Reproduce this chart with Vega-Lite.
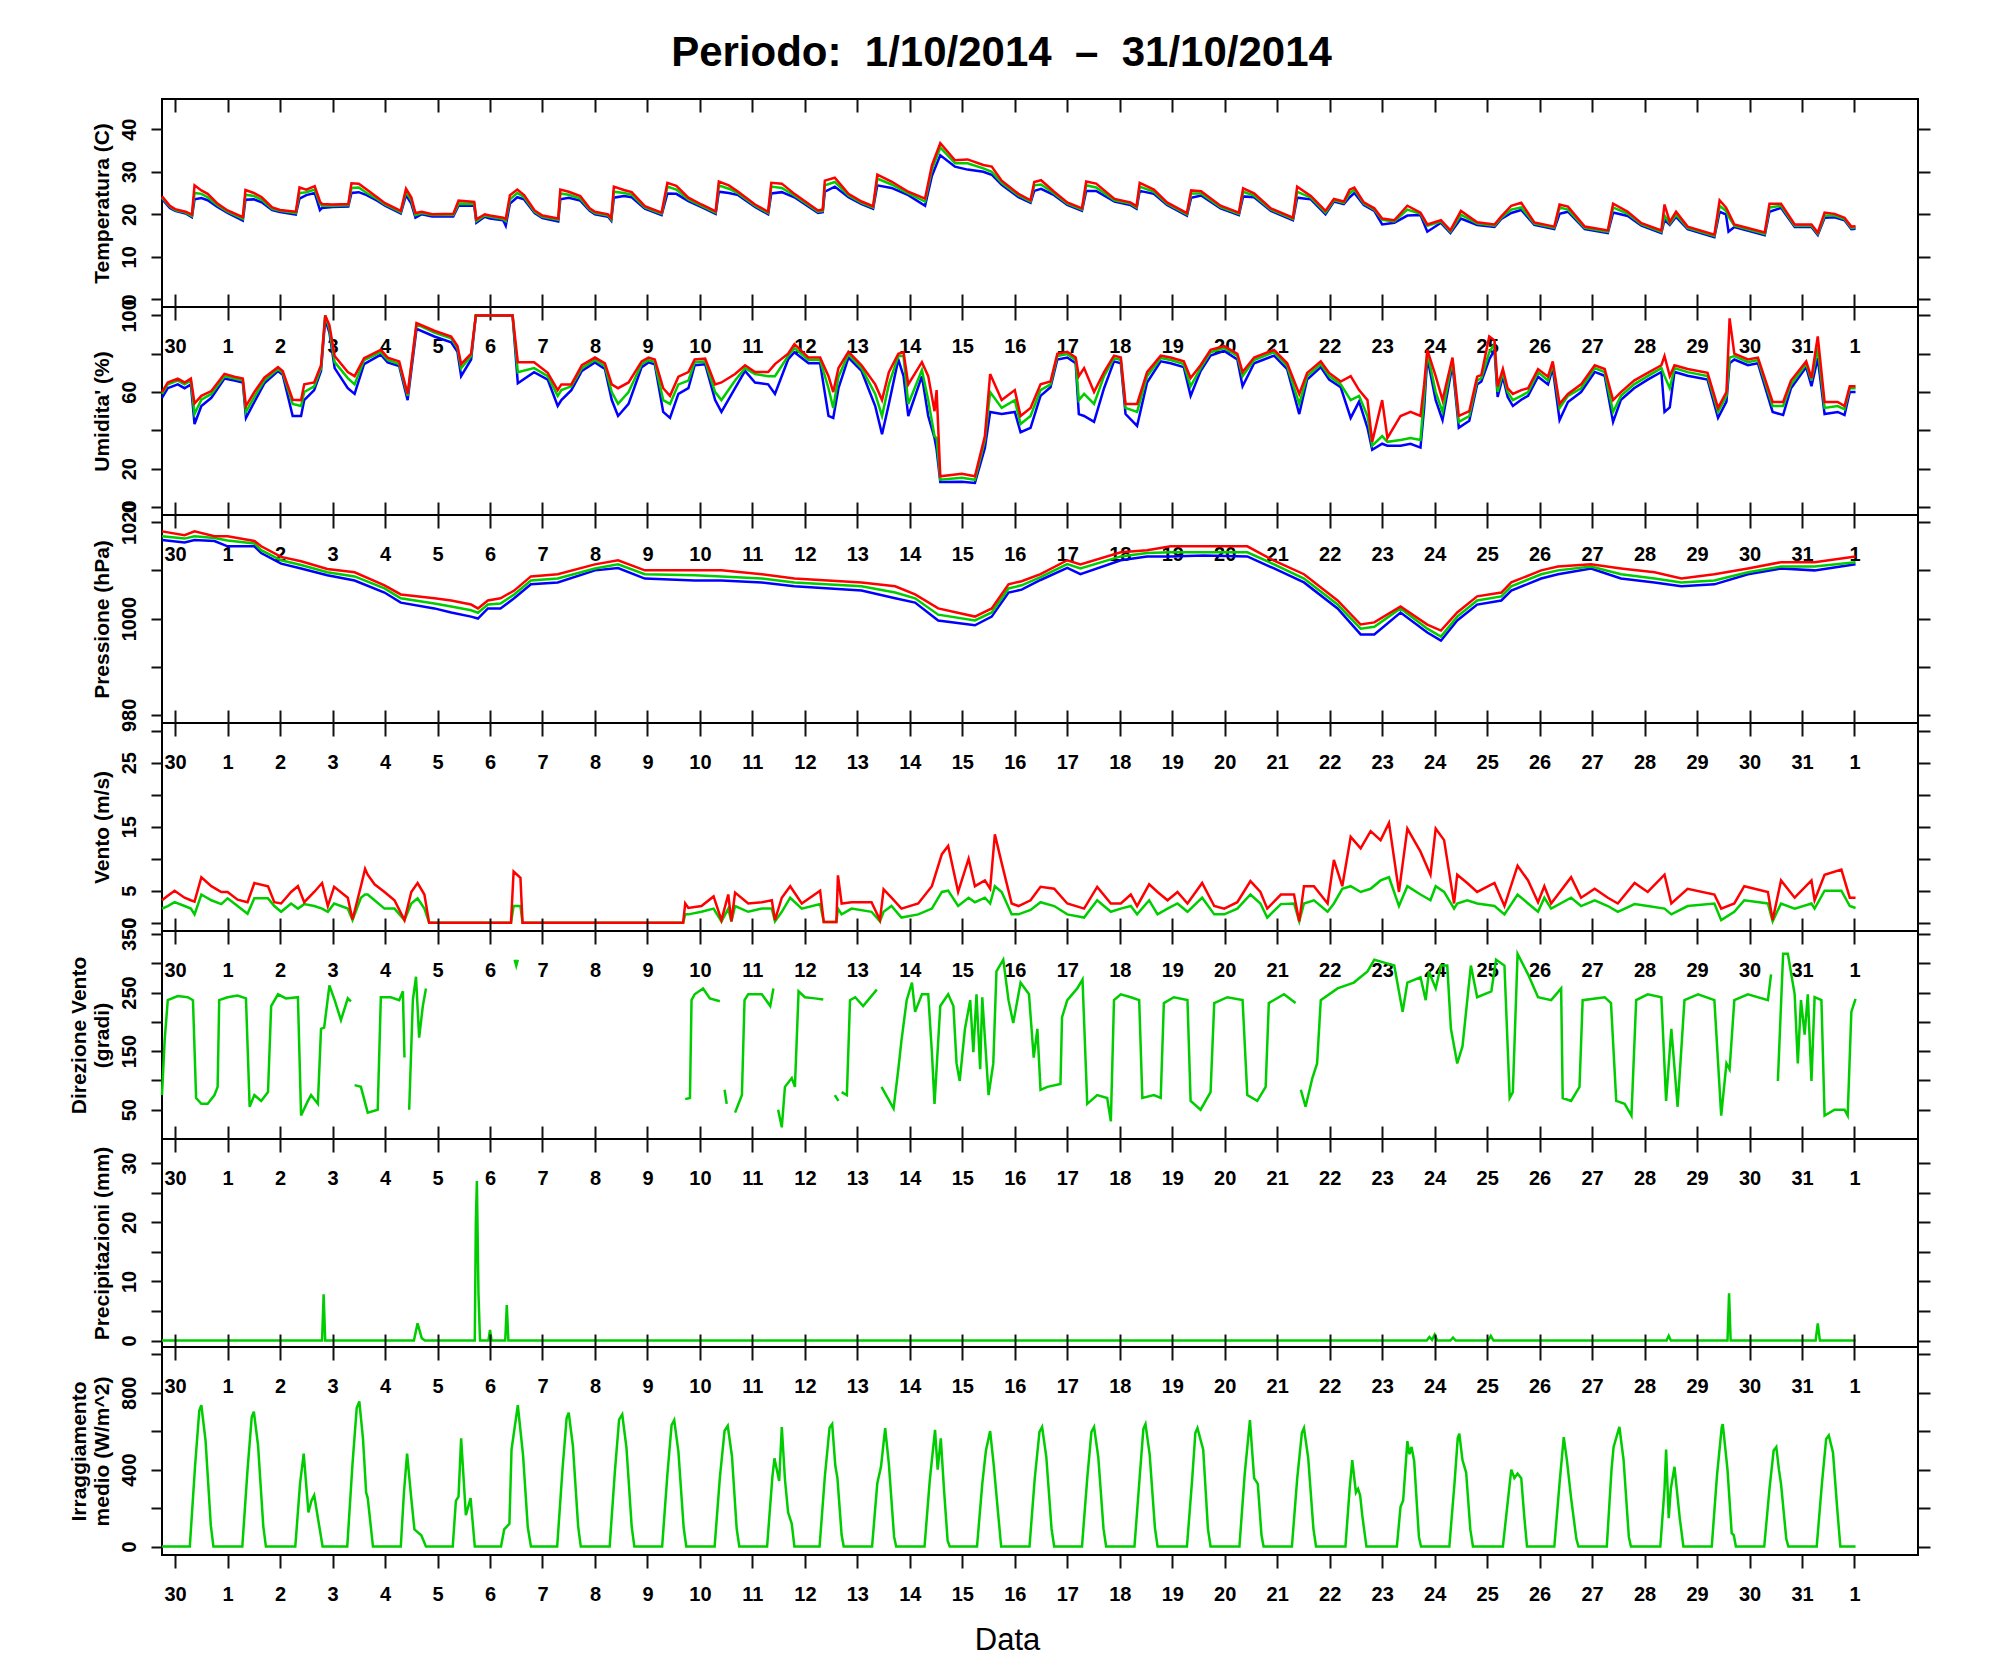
{
"$schema":"https://vega.github.io/schema/vega-lite/v6.json",
"background":"white",
"padding":{"left":66,"top":32,"right":10,"bottom":5},
"autosize":{"type":"pad"},
"title":{"text":"Periodo:\u00a0\u00a01/10/2014\u00a0\u00a0–\u00a0\u00a031/10/2014","font":"Liberation Sans","fontSize":42,"fontWeight":"bold","color":"black","anchor":"middle","baseline":"alphabetic","offset":-11,"dx":2},
"spacing":0,
"bounds":"flush",
"datasets":{
"tmp":[
{"t":-0.25,"a":23.6,"b":23.9,"c":24.2},{"t":-0.1,"a":21.5,"b":21.8,"c":22},{"t":0,"a":20.8,"b":21,"c":21.2},{"t":0.2,"a":20.2,"b":20.4,"c":20.6},{"t":0.32,"a":19.3,"b":19.6,"c":19.9},{"t":0.37,"a":23.5,"b":25,"c":26.8},{"t":0.5,"a":23.8,"b":24.8,"c":25.6},{"t":0.62,"a":23.3,"b":24,"c":24.8},{"t":0.8,"a":21.8,"b":22.2,"c":22.6},
{"t":1,"a":20.3,"b":20.6,"c":20.9},{"t":1.29,"a":18.5,"b":18.9,"c":19.3},{"t":1.34,"a":23.4,"b":24.6,"c":25.7},{"t":1.5,"a":23.5,"b":24.3,"c":25},{"t":1.65,"a":22.8,"b":23.4,"c":24},{"t":1.85,"a":21,"b":21.3,"c":21.6},
{"t":2,"a":20.5,"b":20.8,"c":21},{"t":2.3,"a":19.9,"b":20.3,"c":20.6},{"t":2.37,"a":23.7,"b":25,"c":26.3},{"t":2.5,"a":24.5,"b":25.2,"c":25.8},{"t":2.66,"a":25,"b":25.8,"c":26.6},{"t":2.76,"a":21,"b":22.5,"c":23},{"t":2.8,"a":21.5,"b":22,"c":22.4},
{"t":3,"a":21.7,"b":22,"c":22.3},{"t":3.3,"a":21.8,"b":22.1,"c":22.4},{"t":3.36,"a":25,"b":26.2,"c":27.3},{"t":3.5,"a":25.2,"b":26.3,"c":27.2},{"t":3.65,"a":24.5,"b":25,"c":25.8},{"t":3.85,"a":23.2,"b":23.6,"c":24},
{"t":4,"a":22,"b":22.3,"c":22.6},{"t":4.3,"a":20.2,"b":20.5,"c":20.8},{"t":4.4,"a":24.5,"b":25.3,"c":26},{"t":4.5,"a":22.5,"b":23.3,"c":24},{"t":4.58,"a":19.2,"b":19.8,"c":20.3},{"t":4.7,"a":20,"b":20.3,"c":20.6},{"t":4.9,"a":19.5,"b":19.8,"c":20},
{"t":5.3,"a":19.5,"b":19.8,"c":20.1},{"t":5.4,"a":22,"b":22.5,"c":23.2},{"t":5.7,"a":22,"b":22.4,"c":22.9},{"t":5.74,"a":18,"b":18.4,"c":18.8},{"t":5.9,"a":19.4,"b":19.7,"c":20},
{"t":6,"a":19,"b":19.4,"c":19.7},{"t":6.25,"a":18.6,"b":18.9,"c":19.2},{"t":6.3,"a":17.3,"b":18.4,"c":18.9},{"t":6.38,"a":22.5,"b":23.5,"c":24.5},{"t":6.52,"a":24,"b":25,"c":25.8},{"t":6.65,"a":23.5,"b":24,"c":24.5},{"t":6.85,"a":20.3,"b":20.6,"c":20.9},
{"t":7,"a":19.1,"b":19.4,"c":19.7},{"t":7.3,"a":18.3,"b":18.7,"c":19},{"t":7.34,"a":23.5,"b":24.9,"c":25.8},{"t":7.5,"a":23.9,"b":24.6,"c":25.3},{"t":7.72,"a":23.2,"b":23.7,"c":24.3},{"t":7.9,"a":20.8,"b":21.1,"c":21.4},
{"t":8,"a":20,"b":20.3,"c":20.6},{"t":8.25,"a":19.4,"b":19.7,"c":20},{"t":8.31,"a":18.5,"b":18.8,"c":19.1},{"t":8.36,"a":23.9,"b":25.3,"c":26.5},{"t":8.55,"a":24.3,"b":25,"c":25.7},{"t":8.7,"a":24,"b":24.6,"c":25.2},{"t":8.95,"a":21.3,"b":21.6,"c":21.9},
{"t":9.27,"a":19.8,"b":20.1,"c":20.4},{"t":9.38,"a":24.9,"b":26.5,"c":27.4},{"t":9.55,"a":24.8,"b":25.8,"c":26.7},{"t":9.78,"a":23.1,"b":23.5,"c":23.9},
{"t":10.03,"a":21.7,"b":22,"c":22.3},{"t":10.3,"a":20.1,"b":20.4,"c":20.7},{"t":10.36,"a":25.3,"b":26.8,"c":27.7},{"t":10.55,"a":25,"b":26,"c":26.8},{"t":10.73,"a":24.5,"b":24.9,"c":25.3},
{"t":11.05,"a":21.7,"b":22,"c":22.3},{"t":11.3,"a":20,"b":20.3,"c":20.6},{"t":11.36,"a":24.9,"b":26.5,"c":27.4},{"t":11.56,"a":25.2,"b":26.2,"c":27.2},{"t":11.8,"a":24,"b":24.4,"c":24.8},
{"t":12.25,"a":20.3,"b":20.6,"c":20.9},{"t":12.34,"a":20.5,"b":20.8,"c":21.1},{"t":12.38,"a":25.3,"b":26.8,"c":27.9},{"t":12.57,"a":26.5,"b":27.6,"c":28.6},{"t":12.83,"a":24,"b":24.4,"c":24.8},
{"t":13.08,"a":22.4,"b":22.7,"c":23},{"t":13.3,"a":21.3,"b":21.6,"c":21.9},{"t":13.38,"a":26.8,"b":28.4,"c":29.3},{"t":13.65,"a":26.2,"b":27,"c":27.7},{"t":13.97,"a":24.5,"b":24.9,"c":25.3},
{"t":14.29,"a":22,"b":23,"c":23.7},{"t":14.42,"a":29,"b":30.5,"c":31.5},{"t":14.58,"a":33.9,"b":35.7,"c":36.7},{"t":14.86,"a":31.2,"b":32,"c":32.7},
{"t":15.1,"a":30.5,"b":32,"c":32.9},{"t":15.4,"a":30,"b":30.8,"c":31.6},{"t":15.56,"a":29.3,"b":30,"c":31.2},{"t":15.75,"a":26.9,"b":27.4,"c":27.9},
{"t":16.07,"a":24,"b":24.4,"c":24.8},{"t":16.3,"a":22.7,"b":23,"c":23.3},{"t":16.37,"a":25.5,"b":26.8,"c":27.6},{"t":16.5,"a":26,"b":27,"c":28},{"t":16.75,"a":24.5,"b":24.9,"c":25.3},
{"t":17,"a":22.2,"b":22.5,"c":22.8},{"t":17.28,"a":20.8,"b":21.1,"c":21.4},{"t":17.36,"a":25.5,"b":26.8,"c":27.7},{"t":17.55,"a":25.5,"b":26.3,"c":27.2},{"t":17.9,"a":23,"b":23.3,"c":23.6},
{"t":18.2,"a":22.2,"b":22.5,"c":22.8},{"t":18.32,"a":21.3,"b":21.6,"c":21.9},{"t":18.38,"a":25.5,"b":26.5,"c":27.4},{"t":18.65,"a":24.8,"b":25.3,"c":25.8},{"t":18.9,"a":22.2,"b":22.5,"c":22.8},
{"t":19.28,"a":19.7,"b":20,"c":20.3},{"t":19.36,"a":23.9,"b":24.9,"c":25.6},{"t":19.55,"a":24.4,"b":24.9,"c":25.4},{"t":19.92,"a":21.4,"b":21.7,"c":22},
{"t":20.27,"a":19.8,"b":20.1,"c":20.4},{"t":20.35,"a":24.2,"b":25.3,"c":26.1},{"t":20.56,"a":24,"b":24.4,"c":24.9},{"t":20.88,"a":20.8,"b":21.1,"c":21.4},
{"t":21.3,"a":18.6,"b":18.9,"c":19.2},{"t":21.38,"a":23.9,"b":25.3,"c":26.5},{"t":21.64,"a":23.5,"b":23.9,"c":24.3},{"t":21.92,"a":20,"b":20.4,"c":20.8},
{"t":22.08,"a":23,"b":23.3,"c":23.6},{"t":22.27,"a":22.4,"b":22.7,"c":23},{"t":22.38,"a":24,"b":24.9,"c":25.8},{"t":22.47,"a":25,"b":25.8,"c":26.3},{"t":22.65,"a":22.2,"b":22.5,"c":22.8},{"t":22.85,"a":20.8,"b":21.1,"c":21.4},
{"t":23,"a":17.6,"b":18.7,"c":19},{"t":23.23,"a":18,"b":18.3,"c":18.6},{"t":23.48,"a":19.7,"b":21.1,"c":22},{"t":23.73,"a":19.8,"b":20.1,"c":20.4},{"t":23.86,"a":15.9,"b":17.3,"c":17.6},
{"t":24.12,"a":18,"b":18.3,"c":18.6},{"t":24.3,"a":15.6,"b":15.9,"c":16.2},{"t":24.5,"a":19,"b":19.9,"c":20.8},{"t":24.81,"a":17.5,"b":17.8,"c":18.1},
{"t":25.14,"a":17,"b":17.3,"c":17.6},{"t":25.27,"a":18.9,"b":19.2,"c":19.5},{"t":25.46,"a":20.3,"b":21.1,"c":22},{"t":25.65,"a":21,"b":21.6,"c":22.7},{"t":25.9,"a":17.5,"b":17.8,"c":18.1},
{"t":26.28,"a":16.5,"b":16.8,"c":17.1},{"t":26.38,"a":20.1,"b":21.6,"c":22.3},{"t":26.54,"a":20.6,"b":21.1,"c":21.8},{"t":26.86,"a":16.5,"b":16.8,"c":17.1},
{"t":27.3,"a":15.6,"b":15.9,"c":16.2},{"t":27.4,"a":20.4,"b":21.6,"c":22.5},{"t":27.68,"a":19.6,"b":20.1,"c":20.6},{"t":27.94,"a":17.3,"b":17.6,"c":17.9},
{"t":28.32,"a":15.6,"b":15.9,"c":16.2},{"t":28.38,"a":18.7,"b":19.7,"c":22.3},{"t":28.48,"a":17.5,"b":17.8,"c":18.2},{"t":28.6,"a":19.4,"b":19.9,"c":20.6},{"t":28.82,"a":16.5,"b":16.8,"c":17.1},
{"t":29.33,"a":14.6,"b":14.9,"c":15.2},{"t":29.43,"a":20.6,"b":22,"c":23.3},{"t":29.55,"a":20,"b":20.8,"c":21.6},{"t":29.6,"a":15.9,"b":19.5,"c":20.4},{"t":29.71,"a":17,"b":17.3,"c":17.6},
{"t":30.29,"a":15.1,"b":15.4,"c":15.7},{"t":30.38,"a":20.6,"b":21.6,"c":22.5},{"t":30.6,"a":21.5,"b":22,"c":22.5},{"t":30.86,"a":17,"b":17.3,"c":17.6},
{"t":31.18,"a":17,"b":17.3,"c":17.6},{"t":31.3,"a":15.1,"b":15.4,"c":15.7},{"t":31.43,"a":19.2,"b":19.7,"c":20.4},{"t":31.62,"a":19.3,"b":19.7,"c":20.1},{"t":31.81,"a":18.6,"b":18.9,"c":19.2},{"t":31.94,"a":16.5,"b":16.8,"c":17.1},{"t":32.02,"a":16.6,"b":16.9,"c":17.2}
],
"hum":[
{"t":-0.25,"a":57,"b":59,"c":60},{"t":-0.14,"a":62,"b":64,"c":65},{"t":0.05,"a":64,"b":66,"c":67},{"t":0.18,"a":62,"b":64,"c":65},{"t":0.3,"a":64,"b":66,"c":67},{"t":0.37,"a":43.3,"b":48.5,"c":54},{"t":0.5,"a":52.7,"b":56,"c":58},{"t":0.69,"a":57,"b":59,"c":60.5},{"t":0.94,"a":67,"b":68.3,"c":69.5},
{"t":1.13,"a":66,"b":67,"c":68},{"t":1.29,"a":65,"b":66,"c":67},{"t":1.35,"a":46.5,"b":49.6,"c":52.7},{"t":1.51,"a":54.8,"b":57.5,"c":60},{"t":1.7,"a":64.5,"b":66,"c":67.5},{"t":1.96,"a":71,"b":72,"c":73},
{"t":2.05,"a":69,"b":70,"c":71},{"t":2.24,"a":47.5,"b":53.8,"c":56},{"t":2.4,"a":47.5,"b":52.7,"c":55.8},{"t":2.46,"a":55.8,"b":60,"c":64},{"t":2.65,"a":61,"b":63,"c":65},{"t":2.78,"a":71,"b":72.5,"c":74},{"t":2.86,"a":98,"b":100,"c":100},{"t":2.94,"a":91,"b":93,"c":95},
{"t":3.04,"a":72.5,"b":75.6,"c":78.8},{"t":3.29,"a":62,"b":67.3,"c":70.4},{"t":3.42,"a":59,"b":64,"c":68.3},{"t":3.6,"a":74.6,"b":76.7,"c":77.7},{"t":3.92,"a":79.5,"b":80.8,"c":82},
{"t":4.05,"a":75.5,"b":76.7,"c":78},{"t":4.27,"a":73.5,"b":74.6,"c":76},{"t":4.43,"a":55.8,"b":58,"c":59},{"t":4.6,"a":93,"b":95.4,"c":96},{"t":4.94,"a":89,"b":91,"c":92},
{"t":5.26,"a":86,"b":88,"c":89},{"t":5.38,"a":81,"b":83,"c":84},{"t":5.45,"a":68.3,"b":72.5,"c":74.6},{"t":5.64,"a":77,"b":78.8,"c":80},{"t":5.73,"a":100,"b":100,"c":100},{"t":6.43,"a":100,"b":100,"c":100},{"t":6.53,"a":64.6,"b":70.4,"c":75.6},{"t":6.84,"a":70.4,"b":72.5,"c":75.6},
{"t":7.1,"a":66.5,"b":68.3,"c":70},{"t":7.29,"a":52.7,"b":58,"c":61},{"t":7.36,"a":55.8,"b":61,"c":64},{"t":7.55,"a":61,"b":63,"c":64},{"t":7.75,"a":71,"b":72.5,"c":74},
{"t":8,"a":75.5,"b":76.7,"c":78},{"t":8.19,"a":72,"b":73.5,"c":75},{"t":8.32,"a":55.8,"b":60,"c":64},{"t":8.44,"a":47.5,"b":53.8,"c":62},{"t":8.64,"a":53.8,"b":60,"c":65},{"t":8.89,"a":73,"b":74.6,"c":76},
{"t":9.02,"a":75.5,"b":76.7,"c":78},{"t":9.14,"a":74.5,"b":75.6,"c":77},{"t":9.3,"a":49.6,"b":55.8,"c":62},{"t":9.43,"a":46.5,"b":53.8,"c":58},{"t":9.59,"a":59,"b":64,"c":68},{"t":9.78,"a":62,"b":66,"c":70.4},{"t":9.9,"a":74,"b":75.6,"c":77},
{"t":10.1,"a":74.5,"b":76,"c":77.5},{"t":10.29,"a":55.8,"b":60,"c":64},{"t":10.41,"a":49.6,"b":55.8,"c":65},{"t":10.67,"a":62,"b":66,"c":69.4},{"t":10.86,"a":71,"b":72.5,"c":74},
{"t":11.05,"a":65,"b":69.4,"c":70.4},{"t":11.3,"a":64,"b":68.3,"c":70.4},{"t":11.43,"a":59,"b":68.3,"c":74.6},{"t":11.68,"a":77,"b":78.8,"c":80},{"t":11.8,"a":80.8,"b":83,"c":85},
{"t":12.07,"a":75,"b":76.7,"c":78},{"t":12.29,"a":75,"b":76.7,"c":78},{"t":12.45,"a":47.5,"b":62,"c":68.3},{"t":12.54,"a":46.5,"b":51.7,"c":60},{"t":12.64,"a":62,"b":68,"c":72.5},{"t":12.83,"a":78,"b":79.8,"c":81},
{"t":13.08,"a":71,"b":72.5,"c":74},{"t":13.34,"a":52.7,"b":59,"c":64},{"t":13.47,"a":38,"b":47.5,"c":55.8},{"t":13.6,"a":53.8,"b":64,"c":70.4},{"t":13.78,"a":77,"b":78.8,"c":80},{"t":13.88,"a":68.3,"b":78.8,"c":80.8},{"t":13.97,"a":47.5,"b":53.8,"c":64},
{"t":14.23,"a":68.3,"b":71.5,"c":75.6},{"t":14.35,"a":47.5,"b":55.8,"c":68.3},{"t":14.47,"a":36,"b":37,"c":50},{"t":14.51,"a":30,"b":36,"c":61},{"t":14.58,"a":13,"b":14.2,"c":16},{"t":14.99,"a":13.1,"b":15.2,"c":17.3},
{"t":15.24,"a":12.5,"b":14.2,"c":16},{"t":15.43,"a":30.8,"b":35,"c":37},{"t":15.53,"a":49.6,"b":60,"c":69.4},{"t":15.75,"a":48.5,"b":51.7,"c":55.8},
{"t":16,"a":49.6,"b":55.8,"c":61},{"t":16.11,"a":39,"b":43.3,"c":47.5},{"t":16.3,"a":41.3,"b":47.5,"c":51.7},{"t":16.49,"a":58,"b":61,"c":64},{"t":16.68,"a":62.5,"b":64,"c":65.5},{"t":16.81,"a":77,"b":78.8,"c":80},
{"t":17,"a":78,"b":79.8,"c":81},{"t":17.16,"a":75,"b":76.7,"c":78},{"t":17.22,"a":48.5,"b":55.8,"c":68.3},{"t":17.32,"a":47.5,"b":59,"c":72.5},{"t":17.51,"a":44.4,"b":53.8,"c":60},{"t":17.7,"a":62,"b":68.3,"c":70.4},{"t":17.89,"a":76,"b":77.7,"c":79},
{"t":18.02,"a":75,"b":76.7,"c":78},{"t":18.11,"a":48.5,"b":51.7,"c":53.8},{"t":18.33,"a":42.3,"b":49.6,"c":53.8},{"t":18.52,"a":65,"b":68.3,"c":70.4},{"t":18.78,"a":76,"b":77.7,"c":79},{"t":18.97,"a":75,"b":76.7,"c":78},
{"t":19.22,"a":73,"b":74.6,"c":76},{"t":19.35,"a":58,"b":63,"c":67.3},{"t":19.54,"a":71,"b":72.5,"c":74},{"t":19.73,"a":79,"b":80.8,"c":82},{"t":19.99,"a":81.5,"b":83,"c":84},
{"t":20.24,"a":77,"b":78.8,"c":80},{"t":20.34,"a":63,"b":68.3,"c":70.4},{"t":20.56,"a":75,"b":76.7,"c":78},{"t":20.94,"a":79,"b":80.8,"c":82},
{"t":21.19,"a":72,"b":73.5,"c":75},{"t":21.42,"a":48.5,"b":53.8,"c":59},{"t":21.57,"a":66.5,"b":68.3,"c":70},{"t":21.83,"a":73,"b":74.6,"c":76},{"t":21.99,"a":66.5,"b":68.3,"c":70},
{"t":22.21,"a":62.5,"b":64,"c":65.5},{"t":22.4,"a":46.5,"b":55.8,"c":68.3},{"t":22.56,"a":55,"b":58,"c":61},{"t":22.72,"a":41.3,"b":47.5,"c":55.8},{"t":22.81,"a":29.8,"b":32,"c":34},
{"t":23,"a":33,"b":37,"c":55.8},{"t":23.1,"a":32,"b":34,"c":36},{"t":23.35,"a":32,"b":35,"c":47.5},{"t":23.54,"a":33,"b":36,"c":49.6},{"t":23.73,"a":31,"b":35,"c":47.5},{"t":23.8,"a":51.7,"b":58,"c":64},{"t":23.86,"a":78,"b":80.8,"c":82},
{"t":24.02,"a":55.8,"b":60,"c":68.3},{"t":24.15,"a":45.4,"b":49.6,"c":55.8},{"t":24.34,"a":74.5,"b":76.7,"c":78},{"t":24.46,"a":41.3,"b":44.4,"c":47.5},{"t":24.66,"a":45,"b":47.5,"c":50},{"t":24.81,"a":64,"b":66,"c":68},{"t":24.89,"a":65.5,"b":67.3,"c":69},
{"t":25.04,"a":77,"b":80.8,"c":89},{"t":25.14,"a":82,"b":85,"c":87},{"t":25.2,"a":57.5,"b":60,"c":63},{"t":25.3,"a":68,"b":70.4,"c":72},{"t":25.39,"a":57.5,"b":60,"c":62},{"t":25.49,"a":52.7,"b":55.8,"c":59},{"t":25.65,"a":56,"b":58,"c":61},{"t":25.78,"a":58,"b":60,"c":62},{"t":25.97,"a":68,"b":70.4,"c":72},
{"t":26.16,"a":64,"b":66,"c":68},{"t":26.25,"a":72.5,"b":74.6,"c":76},{"t":26.38,"a":45.4,"b":51.7,"c":53.8},{"t":26.54,"a":54.8,"b":58,"c":59},{"t":26.79,"a":60,"b":62,"c":64},
{"t":27.05,"a":70.5,"b":72.5,"c":74},{"t":27.24,"a":68.5,"b":70.4,"c":72},{"t":27.4,"a":44.4,"b":49.6,"c":55.8},{"t":27.55,"a":56,"b":58,"c":60},{"t":27.8,"a":62,"b":64,"c":66},
{"t":28.06,"a":66.5,"b":68.3,"c":70},{"t":28.32,"a":70.5,"b":72.5,"c":74},{"t":28.38,"a":49.6,"b":68.3,"c":78.8},{"t":28.48,"a":52,"b":62,"c":68.3},{"t":28.57,"a":70.5,"b":72.5,"c":74},{"t":28.82,"a":68.5,"b":70.4,"c":72},
{"t":29.2,"a":66.5,"b":68.3,"c":70},{"t":29.4,"a":46.5,"b":49.6,"c":51.7},{"t":29.56,"a":55,"b":58,"c":60},{"t":29.62,"a":75,"b":78,"c":98.5},{"t":29.71,"a":77,"b":78.8,"c":80},{"t":29.97,"a":74,"b":75.6,"c":77},
{"t":30.16,"a":75,"b":76.7,"c":78},{"t":30.44,"a":49.6,"b":52.7,"c":54.8},{"t":30.64,"a":48,"b":52.7,"c":54.8},{"t":30.79,"a":62,"b":64,"c":66},
{"t":31.08,"a":73,"b":74.6,"c":76},{"t":31.18,"a":63,"b":66,"c":67.3},{"t":31.3,"a":77.7,"b":83,"c":89},{"t":31.43,"a":48.5,"b":51.7,"c":54.8},{"t":31.68,"a":49.6,"b":52.7,"c":54.8},{"t":31.81,"a":48,"b":51,"c":52.7},{"t":31.91,"a":60,"b":62,"c":63},{"t":32.02,"a":60,"b":62,"c":63}
],
"prs":[
{"t":-0.25,"a":1016.3,"b":1017.1,"c":1018.1},{"t":0.18,"a":1015.8,"b":1016.6,"c":1017.3},{"t":0.37,"a":1016.3,"b":1017.1,"c":1018.1},{"t":0.75,"a":1016.1,"b":1016.7,"c":1017.1},{"t":1,"a":1015,"b":1016.2,"c":1017.1},{"t":1.51,"a":1015,"b":1015.6,"c":1016.1},{"t":1.64,"a":1013.6,"b":1014.2,"c":1015},
{"t":2.02,"a":1011.4,"b":1012.1,"c":1012.8},{"t":2.4,"a":1010.4,"b":1011.1,"c":1011.9},{"t":2.9,"a":1009,"b":1009.6,"c":1010.3},{"t":3.42,"a":1007.9,"b":1008.75,"c":1009.6},{"t":3.99,"a":1005.4,"b":1006.25,"c":1006.9},{"t":4.3,"a":1003.3,"b":1004.2,"c":1005},
{"t":4.94,"a":1002.1,"b":1003.1,"c":1004.2},{"t":5.26,"a":1001.25,"b":1002.5,"c":1003.75},{"t":5.64,"a":1000.4,"b":1001.7,"c":1002.9},{"t":5.77,"a":1000,"b":1001.2,"c":1002.1},{"t":5.96,"a":1002.1,"b":1002.9,"c":1003.75},{"t":6.2,"a":1002.1,"b":1003.1,"c":1004.2},
{"t":6.46,"a":1004.2,"b":1005,"c":1005.8},{"t":6.78,"a":1007.1,"b":1007.9,"c":1008.75},{"t":7.29,"a":1007.5,"b":1008.3,"c":1009.2},{"t":8,"a":1010,"b":1010.4,"c":1011.25},{"t":8.44,"a":1010.5,"b":1011.25,"c":1012.1},{"t":8.95,"a":1008.3,"b":1009.2,"c":1010},
{"t":9.9,"a":1007.9,"b":1009,"c":1010},{"t":10.41,"a":1007.9,"b":1008.75,"c":1010},{"t":11.18,"a":1007.5,"b":1008.3,"c":1009.2},{"t":11.8,"a":1006.7,"b":1007.5,"c":1008.3},{"t":13.08,"a":1005.8,"b":1006.7,"c":1007.5},{"t":13.72,"a":1004.2,"b":1005.4,"c":1006.7},
{"t":14.1,"a":1003.3,"b":1004.2,"c":1005},{"t":14.54,"a":999.6,"b":1000.8,"c":1002.1},{"t":15.24,"a":998.6,"b":999.6,"c":1000.4},{"t":15.56,"a":1000.4,"b":1001.25,"c":1002.1},{"t":15.88,"a":1005.4,"b":1006.25,"c":1007.1},{"t":16.13,"a":1006,"b":1006.9,"c":1007.75},
{"t":16.49,"a":1008,"b":1008.6,"c":1009.2},{"t":17,"a":1010.5,"b":1011.3,"c":1012.1},{"t":17.25,"a":1009.2,"b":1010.4,"c":1011.25},{"t":18.02,"a":1012.1,"b":1012.9,"c":1013.75},{"t":18.52,"a":1012.9,"b":1013.6,"c":1014.2},{"t":18.97,"a":1012.9,"b":1013.75,"c":1015},
{"t":19.6,"a":1013.1,"b":1013.75,"c":1015},{"t":20.43,"a":1012.9,"b":1013.75,"c":1015},{"t":20.94,"a":1010.4,"b":1011.25,"c":1012},{"t":21.51,"a":1007.5,"b":1008.3,"c":1009.2},{"t":22.15,"a":1002.1,"b":1002.9,"c":1003.75},{"t":22.59,"a":996.7,"b":997.9,"c":998.75},
{"t":22.85,"a":996.7,"b":998.3,"c":999.2},{"t":23.35,"a":1001.25,"b":1002.1,"c":1002.5},{"t":23.86,"a":997.1,"b":997.9,"c":998.75},{"t":24.12,"a":995.4,"b":996.25,"c":997.5},{"t":24.43,"a":999.6,"b":1000.4,"c":1001.25},{"t":24.81,"a":1002.9,"b":1003.75,"c":1004.6},
{"t":25.27,"a":1003.75,"b":1004.6,"c":1005.4},{"t":25.46,"a":1005.8,"b":1006.7,"c":1007.5},{"t":26.03,"a":1008.3,"b":1009.2,"c":1010},{"t":26.35,"a":1009.2,"b":1010,"c":1010.8},{"t":26.98,"a":1010.4,"b":1010.8,"c":1011.25},{"t":27.55,"a":1008.3,"b":1009.2,"c":1010.4},
{"t":28.19,"a":1007.5,"b":1008.3,"c":1009.6},{"t":28.7,"a":1006.7,"b":1007.5,"c":1008.3},{"t":29.33,"a":1007.1,"b":1007.9,"c":1009.2},{"t":29.97,"a":1009.2,"b":1009.6,"c":1010.4},{"t":30.6,"a":1010.4,"b":1010.8,"c":1011.7},{"t":31.24,"a":1010,"b":1010.8,"c":1011.7},{"t":32.02,"a":1011.25,"b":1011.7,"c":1012.9}
],
"wnd":[
{"t":-0.25,"a":2.2,"b":3.5},{"t":-0.14,"a":2.6,"b":4.2},{"t":-0.01,"a":3.2,"b":5},{"t":0.18,"a":2.6,"b":3.9},{"t":0.3,"a":2.2,"b":3.5},{"t":0.37,"a":1.3,"b":3.3},{"t":0.5,"a":4.4,"b":7.1},{"t":0.69,"a":3.5,"b":5.7},{"t":0.88,"a":2.9,"b":4.8},
{"t":1,"a":3.8,"b":4.8},{"t":1.19,"a":2.6,"b":3.6},{"t":1.38,"a":1.4,"b":3.2},{"t":1.51,"a":3.8,"b":6.2},{"t":1.77,"a":3.8,"b":5.7},{"t":1.89,"a":2.6,"b":3.2},
{"t":2.02,"a":1.7,"b":3},{"t":2.21,"a":3,"b":4.8},{"t":2.34,"a":2.2,"b":5.7},{"t":2.46,"a":2.9,"b":3.2},{"t":2.65,"a":2.6,"b":4.8},{"t":2.8,"a":2.2,"b":6.2},{"t":2.91,"a":1.7,"b":2.6},
{"t":3.03,"a":3,"b":5.6},{"t":3.29,"a":2.2,"b":3.9},{"t":3.38,"a":0.4,"b":0.5},{"t":3.54,"a":3.9,"b":5.7},{"t":3.62,"a":4.4,"b":8.4},{"t":3.67,"a":4.4,"b":7.5},{"t":3.8,"a":3.5,"b":6},{"t":3.99,"a":2.2,"b":4.8},
{"t":4.18,"a":2.2,"b":3.5},{"t":4.37,"a":0.4,"b":0.4},{"t":4.5,"a":3,"b":4.8},{"t":4.62,"a":3.8,"b":6.2},{"t":4.75,"a":2.2,"b":4.4},{"t":4.84,"a":0,"b":0},{"t":6.4,"a":0,"b":0},{"t":6.45,"a":2.6,"b":8},{"t":6.58,"a":2.6,"b":7},{"t":6.62,"a":0,"b":0},
{"t":9.68,"a":0,"b":0},{"t":9.72,"a":1.3,"b":3},{"t":9.78,"a":1.3,"b":2.3},{"t":10.03,"a":1.7,"b":2.6},{"t":10.26,"a":2.2,"b":4.1},{"t":10.41,"a":0.2,"b":0.4},{"t":10.54,"a":2.2,"b":4.4},{"t":10.6,"a":0.2,"b":0.2},{"t":10.67,"a":2.6,"b":4.7},{"t":10.92,"a":1.7,"b":3},
{"t":11.18,"a":2.2,"b":3.2},{"t":11.37,"a":2.2,"b":3.5},{"t":11.43,"a":0.2,"b":0.4},{"t":11.56,"a":1.7,"b":3.9},{"t":11.72,"a":3.9,"b":5.7},{"t":11.94,"a":2.2,"b":3},
{"t":12.29,"a":2.9,"b":5},{"t":12.36,"a":0.1,"b":0.1},{"t":12.6,"a":0.1,"b":0.1},{"t":12.63,"a":2.2,"b":7.4},{"t":12.7,"a":1.3,"b":3},{"t":12.89,"a":2.2,"b":3.2},
{"t":13.27,"a":1.7,"b":3.2},{"t":13.43,"a":0.2,"b":0.4},{"t":13.5,"a":1.7,"b":5.2},{"t":13.65,"a":2.6,"b":3.9},{"t":13.84,"a":0.8,"b":2.2},
{"t":14.16,"a":1.3,"b":3},{"t":14.42,"a":2.2,"b":5.7},{"t":14.61,"a":4.8,"b":10.7},{"t":14.73,"a":5,"b":12},{"t":14.92,"a":2.6,"b":4.8},
{"t":15.12,"a":3.9,"b":10},{"t":15.24,"a":3.2,"b":5.7},{"t":15.43,"a":3.9,"b":6.6},{"t":15.53,"a":3,"b":5.3},{"t":15.62,"a":5.7,"b":13.8},{"t":15.75,"a":4.8,"b":9.3},{"t":15.94,"a":1.3,"b":3},
{"t":16.07,"a":1.3,"b":2.6},{"t":16.3,"a":2,"b":3.5},{"t":16.49,"a":3.2,"b":5.6},{"t":16.75,"a":2.6,"b":5.3},{"t":17,"a":1.3,"b":3},{"t":17.32,"a":0.8,"b":2.2},{"t":17.57,"a":3.5,"b":5.6},{"t":17.83,"a":1.7,"b":3},
{"t":18.02,"a":2.2,"b":3},{"t":18.21,"a":2.6,"b":4.4},{"t":18.33,"a":1.3,"b":2.6},{"t":18.56,"a":3.5,"b":6},{"t":18.72,"a":1.3,"b":4.8},{"t":18.91,"a":2.2,"b":3.5},
{"t":19.1,"a":3,"b":4.8},{"t":19.29,"a":1.7,"b":3},{"t":19.57,"a":3.9,"b":6.2},{"t":19.8,"a":1.3,"b":2.6},{"t":19.99,"a":1.3,"b":2.2},
{"t":20.24,"a":2.2,"b":3.2},{"t":20.49,"a":4.4,"b":6.5},{"t":20.68,"a":3,"b":4.8},{"t":20.81,"a":0.8,"b":2.2},
{"t":21.07,"a":2.9,"b":4.4},{"t":21.32,"a":3,"b":4.4},{"t":21.42,"a":0.2,"b":0.2},{"t":21.51,"a":3,"b":5.7},{"t":21.7,"a":3.5,"b":5.7},{"t":21.96,"a":1.7,"b":3},
{"t":22.08,"a":3,"b":9.8},{"t":22.24,"a":5.3,"b":5.7},{"t":22.4,"a":5.7,"b":13.4},{"t":22.59,"a":4.8,"b":11.6},{"t":22.78,"a":5.3,"b":14.3},{"t":22.97,"a":6.6,"b":12.9},
{"t":23.13,"a":7.1,"b":15.6},{"t":23.32,"a":2.6,"b":4.8},{"t":23.48,"a":5.7,"b":14.7},{"t":23.73,"a":4.4,"b":11.1},{"t":23.92,"a":3.5,"b":7.5},
{"t":24.02,"a":5.7,"b":14.7},{"t":24.18,"a":4.8,"b":12.9},{"t":24.37,"a":2.2,"b":3},{"t":24.43,"a":3,"b":7.5},{"t":24.62,"a":3.5,"b":6.2},{"t":24.81,"a":3,"b":4.8},
{"t":25.14,"a":2.6,"b":6.2},{"t":25.33,"a":1.3,"b":2.6},{"t":25.58,"a":4.4,"b":8.9},{"t":25.78,"a":3,"b":6.6},{"t":25.97,"a":1.7,"b":3.2},
{"t":26.09,"a":3.9,"b":5.7},{"t":26.22,"a":2.2,"b":3},{"t":26.6,"a":3.9,"b":7.1},{"t":26.79,"a":2.6,"b":3.9},
{"t":27.05,"a":3.5,"b":5.3},{"t":27.3,"a":2.6,"b":3.9},{"t":27.49,"a":1.7,"b":3},{"t":27.81,"a":2.9,"b":6.2},
{"t":28.06,"a":2.6,"b":4.8},{"t":28.38,"a":2.2,"b":7.5},{"t":28.51,"a":1.3,"b":3},{"t":28.82,"a":2.6,"b":5.3},
{"t":29.33,"a":3,"b":4.4},{"t":29.46,"a":0.4,"b":2.2},{"t":29.71,"a":1.7,"b":3},{"t":29.9,"a":3.5,"b":5.7},
{"t":30.35,"a":3,"b":4.8},{"t":30.44,"a":0.2,"b":0.4},{"t":30.6,"a":3,"b":6.6},{"t":30.86,"a":2.2,"b":3.9},
{"t":31.18,"a":3,"b":6.6},{"t":31.24,"a":2.2,"b":3.5},{"t":31.43,"a":5,"b":7.5},{"t":31.75,"a":5,"b":8.3},{"t":31.91,"a":2.6,"b":3.9},{"t":32.02,"a":2.3,"b":3.9}
],
"dir":[
{"t":-0.25,"d":75},{"t":-0.2,"d":168},{"t":-0.14,"d":237},{"t":0.05,"d":244},{"t":0.24,"d":242},{"t":0.34,"d":237},{"t":0.4,"d":70},{"t":0.5,"d":60},{"t":0.62,"d":60},{"t":0.75,"d":75},{"t":0.81,"d":89},{"t":0.84,"d":237},
{"t":1,"d":242},{"t":1.19,"d":245},{"t":1.35,"d":240},{"t":1.42,"d":55},{"t":1.51,"d":75},{"t":1.64,"d":65},{"t":1.77,"d":80},{"t":1.83,"d":227},{"t":1.96,"d":247},
{"t":2.11,"d":240},{"t":2.34,"d":242},{"t":2.4,"d":40},{"t":2.53,"d":65},{"t":2.59,"d":75},{"t":2.72,"d":60},{"t":2.78,"d":188},{"t":2.84,"d":190},{"t":2.94,"d":262},
{"t":3.04,"d":237},{"t":3.16,"d":203},{"t":3.29,"d":240},{"t":3.35,"d":235},{"t":3.38,"d":null},{"t":3.42,"d":92},{"t":3.54,"d":89},{"t":3.67,"d":45},{"t":3.86,"d":50},{"t":3.92,"d":242},
{"t":4.11,"d":242},{"t":4.27,"d":237},{"t":4.34,"d":252},{"t":4.37,"d":139},{"t":4.4,"d":null},{"t":4.46,"d":50},{"t":4.53,"d":237},{"t":4.59,"d":277},{"t":4.65,"d":173},{"t":4.72,"d":227},{"t":4.78,"d":257},{"t":4.8,"d":null},
{"t":6.47,"d":306},{"t":6.5,"d":296},{"t":6.53,"d":306},{"t":6.56,"d":null},
{"t":9.72,"d":68},{"t":9.81,"d":70},{"t":9.84,"d":237},{"t":9.9,"d":247},{"t":10.06,"d":257},{"t":10.19,"d":240},{"t":10.38,"d":235},{"t":10.42,"d":null},{"t":10.47,"d":84},{"t":10.51,"d":60},{"t":10.55,"d":null},
{"t":10.67,"d":45},{"t":10.8,"d":75},{"t":10.85,"d":237},{"t":10.92,"d":247},{"t":11.18,"d":247},{"t":11.34,"d":227},{"t":11.4,"d":257},{"t":11.45,"d":null},
{"t":11.49,"d":50},{"t":11.56,"d":20},{"t":11.62,"d":89},{"t":11.75,"d":104},{"t":11.81,"d":89},{"t":11.88,"d":252},{"t":12,"d":242},{"t":12.19,"d":240},{"t":12.35,"d":238},{"t":12.45,"d":null},
{"t":12.57,"d":75},{"t":12.64,"d":65},{"t":12.67,"d":null},{"t":12.7,"d":80},{"t":12.8,"d":75},{"t":12.86,"d":237},{"t":12.96,"d":242},{"t":13.11,"d":227},{"t":13.37,"d":255},{"t":13.41,"d":null},
{"t":13.46,"d":89},{"t":13.69,"d":52},{"t":13.78,"d":119},{"t":13.84,"d":168},{"t":13.94,"d":237},{"t":14.04,"d":267},{"t":14.1,"d":217},{"t":14.23,"d":247},{"t":14.35,"d":247},{"t":14.42,"d":148},{"t":14.47,"d":60},
{"t":14.58,"d":227},{"t":14.73,"d":247},{"t":14.83,"d":227},{"t":14.89,"d":129},{"t":14.95,"d":99},{"t":15.05,"d":188},{"t":15.15,"d":237},{"t":15.21,"d":148},{"t":15.27,"d":247},{"t":15.34,"d":119},{"t":15.38,"d":242},
{"t":15.5,"d":75},{"t":15.59,"d":129},{"t":15.65,"d":286},{"t":15.78,"d":306},{"t":15.88,"d":237},{"t":15.97,"d":198},{"t":16.07,"d":247},{"t":16.11,"d":267},{"t":16.27,"d":247},{"t":16.36,"d":139},{"t":16.43,"d":188},
{"t":16.49,"d":84},{"t":16.62,"d":89},{"t":16.87,"d":94},{"t":16.9,"d":208},{"t":17,"d":237},{"t":17.19,"d":257},{"t":17.29,"d":272},{"t":17.38,"d":60},{"t":17.57,"d":75},{"t":17.76,"d":70},{"t":17.83,"d":30},
{"t":17.89,"d":237},{"t":18.02,"d":247},{"t":18.21,"d":242},{"t":18.37,"d":237},{"t":18.43,"d":70},{"t":18.65,"d":75},{"t":18.78,"d":70},{"t":18.84,"d":232},{"t":19.03,"d":242},{"t":19.29,"d":237},
{"t":19.35,"d":65},{"t":19.54,"d":50},{"t":19.73,"d":80},{"t":19.8,"d":232},{"t":20.05,"d":242},{"t":20.34,"d":237},{"t":20.43,"d":75},{"t":20.62,"d":65},{"t":20.78,"d":89},{"t":20.84,"d":232},
{"t":21.13,"d":247},{"t":21.35,"d":232},{"t":21.4,"d":null},{"t":21.45,"d":84},{"t":21.54,"d":55},{"t":21.67,"d":104},{"t":21.76,"d":129},{"t":21.83,"d":237},{"t":22.15,"d":257},{"t":22.46,"d":267},{"t":22.72,"d":286},
{"t":22.85,"d":306},{"t":23.04,"d":301},{"t":23.23,"d":296},{"t":23.39,"d":217},{"t":23.48,"d":267},{"t":23.73,"d":276},{"t":23.83,"d":237},{"t":23.89,"d":286},{"t":24.02,"d":257},{"t":24.12,"d":296},{"t":24.24,"d":296},
{"t":24.31,"d":188},{"t":24.43,"d":129},{"t":24.53,"d":158},{"t":24.69,"d":296},{"t":24.81,"d":242},{"t":25.08,"d":252},{"t":25.17,"d":306},{"t":25.33,"d":296},{"t":25.43,"d":70},{"t":25.49,"d":80},{"t":25.58,"d":316},
{"t":25.78,"d":281},{"t":25.97,"d":242},{"t":26.22,"d":237},{"t":26.41,"d":257},{"t":26.44,"d":70},{"t":26.6,"d":65},{"t":26.76,"d":89},{"t":26.82,"d":237},{"t":27.24,"d":242},{"t":27.36,"d":232},
{"t":27.46,"d":65},{"t":27.62,"d":60},{"t":27.75,"d":40},{"t":27.84,"d":237},{"t":28.06,"d":247},{"t":28.32,"d":242},{"t":28.41,"d":65},{"t":28.51,"d":188},{"t":28.63,"d":55},{"t":28.76,"d":237},
{"t":29.02,"d":247},{"t":29.33,"d":237},{"t":29.46,"d":40},{"t":29.56,"d":129},{"t":29.62,"d":119},{"t":29.71,"d":237},{"t":29.97,"d":247},{"t":30.35,"d":237},{"t":30.41,"d":281},{"t":30.47,"d":null},
{"t":30.54,"d":99},{"t":30.64,"d":316},{"t":30.73,"d":316},{"t":30.86,"d":247},{"t":30.92,"d":129},{"t":30.98,"d":237},{"t":31.05,"d":178},{"t":31.11,"d":247},{"t":31.18,"d":99},{"t":31.24,"d":242},
{"t":31.37,"d":237},{"t":31.43,"d":40},{"t":31.62,"d":50},{"t":31.81,"d":50},{"t":31.87,"d":40},{"t":31.94,"d":217},{"t":32.02,"d":239}
],
"rain":[
{"t":-0.25,"p":0},{"t":2.8,"p":0},{"t":2.83,"p":7.8},{"t":2.86,"p":0},{"t":4.55,"p":0},{"t":4.62,"p":2.9},{"t":4.7,"p":0.4},{"t":4.76,"p":0},{"t":5.71,"p":0},{"t":5.73,"p":20},{"t":5.75,"p":27},{"t":5.78,"p":8},{"t":5.81,"p":0},
{"t":5.97,"p":0},{"t":6,"p":1.8},{"t":6.03,"p":0},{"t":6.29,"p":0},{"t":6.32,"p":6},{"t":6.35,"p":0},{"t":23.85,"p":0},{"t":23.9,"p":0.6},{"t":23.95,"p":0.1},{"t":24,"p":1},{"t":24.05,"p":0},
{"t":24.3,"p":0},{"t":24.35,"p":0.5},{"t":24.4,"p":0},{"t":25.02,"p":0},{"t":25.07,"p":0.8},{"t":25.12,"p":0},{"t":28.42,"p":0},{"t":28.46,"p":0.8},{"t":28.5,"p":0},
{"t":29.58,"p":0},{"t":29.61,"p":8},{"t":29.64,"p":0},{"t":31.26,"p":0},{"t":31.3,"p":2.9},{"t":31.34,"p":0},{"t":32.02,"p":0}
],
"rad":[
{"t":-0.25,"r":0},
{"t":0.28,"r":0},{"t":0.38,"r":419},{"t":0.46,"r":706},{"t":0.5,"r":735},{"t":0.58,"r":551},{"t":0.68,"r":110},{"t":0.73,"r":0},
{"t":1.28,"r":0},{"t":1.38,"r":400},{"t":1.46,"r":674},{"t":1.5,"r":702},{"t":1.58,"r":527},{"t":1.68,"r":105},{"t":1.73,"r":0},
{"t":2.29,"r":0},{"t":2.38,"r":326},{"t":2.45,"r":483},{"t":2.54,"r":178},{"t":2.6,"r":240},{"t":2.65,"r":267},{"t":2.72,"r":150},{"t":2.81,"r":0},
{"t":3.28,"r":0},{"t":3.38,"r":430},{"t":3.46,"r":720},{"t":3.51,"r":755},{"t":3.58,"r":560},{"t":3.64,"r":281},{"t":3.67,"r":252},{"t":3.77,"r":0},
{"t":4.3,"r":0},{"t":4.36,"r":280},{"t":4.42,"r":483},{"t":4.5,"r":250},{"t":4.56,"r":89},{"t":4.69,"r":59},{"t":4.78,"r":0},
{"t":5.29,"r":0},{"t":5.35,"r":237},{"t":5.4,"r":260},{"t":5.45,"r":563},{"t":5.54,"r":163},{"t":5.63,"r":252},{"t":5.71,"r":0},
{"t":6.21,"r":0},{"t":6.27,"r":89},{"t":6.37,"r":118},{"t":6.41,"r":504},{"t":6.53,"r":735},{"t":6.63,"r":474},{"t":6.72,"r":100},{"t":6.78,"r":0},
{"t":7.28,"r":0},{"t":7.38,"r":397},{"t":7.46,"r":668},{"t":7.5,"r":696},{"t":7.58,"r":522},{"t":7.68,"r":104},{"t":7.73,"r":0},
{"t":8.28,"r":0},{"t":8.38,"r":392},{"t":8.46,"r":660},{"t":8.52,"r":687},{"t":8.6,"r":515},{"t":8.7,"r":103},{"t":8.75,"r":0},
{"t":9.28,"r":0},{"t":9.38,"r":375},{"t":9.46,"r":632},{"t":9.51,"r":658},{"t":9.59,"r":494},{"t":9.69,"r":99},{"t":9.74,"r":0},
{"t":10.28,"r":0},{"t":10.38,"r":358},{"t":10.47,"r":603},{"t":10.53,"r":628},{"t":10.61,"r":471},{"t":10.7,"r":94},{"t":10.75,"r":0},
{"t":11.28,"r":0},{"t":11.38,"r":360},{"t":11.42,"r":459},{"t":11.51,"r":341},{"t":11.56,"r":622},{"t":11.62,"r":350},{"t":11.68,"r":178},{"t":11.75,"r":118},{"t":11.8,"r":0},
{"t":12.28,"r":0},{"t":12.38,"r":363},{"t":12.47,"r":618},{"t":12.52,"r":637},{"t":12.58,"r":420},{"t":12.62,"r":356},{"t":12.7,"r":60},{"t":12.74,"r":0},
{"t":13.28,"r":0},{"t":13.38,"r":330},{"t":13.45,"r":415},{"t":13.53,"r":616},{"t":13.6,"r":430},{"t":13.7,"r":50},{"t":13.74,"r":0},
{"t":14.28,"r":0},{"t":14.38,"r":346},{"t":14.48,"r":607},{"t":14.53,"r":400},{"t":14.59,"r":563},{"t":14.65,"r":300},{"t":14.72,"r":30},{"t":14.76,"r":0},
{"t":15.28,"r":0},{"t":15.38,"r":326},{"t":15.45,"r":500},{"t":15.53,"r":601},{"t":15.6,"r":420},{"t":15.69,"r":148},{"t":15.74,"r":0},
{"t":16.28,"r":0},{"t":16.38,"r":355},{"t":16.47,"r":597},{"t":16.52,"r":622},{"t":16.6,"r":467},{"t":16.7,"r":93},{"t":16.75,"r":0},
{"t":17.28,"r":0},{"t":17.38,"r":355},{"t":17.46,"r":597},{"t":17.51,"r":622},{"t":17.59,"r":467},{"t":17.69,"r":93},{"t":17.74,"r":0},
{"t":18.28,"r":0},{"t":18.38,"r":363},{"t":18.45,"r":612},{"t":18.49,"r":637},{"t":18.57,"r":478},{"t":18.67,"r":96},{"t":18.72,"r":0},
{"t":19.28,"r":0},{"t":19.38,"r":351},{"t":19.44,"r":591},{"t":19.48,"r":616},{"t":19.59,"r":504},{"t":19.68,"r":92},{"t":19.73,"r":0},
{"t":20.28,"r":0},{"t":20.38,"r":375},{"t":20.48,"r":658},{"t":20.56,"r":356},{"t":20.63,"r":326},{"t":20.7,"r":60},{"t":20.74,"r":0},
{"t":21.28,"r":0},{"t":21.38,"r":351},{"t":21.47,"r":591},{"t":21.51,"r":616},{"t":21.59,"r":462},{"t":21.69,"r":92},{"t":21.74,"r":0},
{"t":22.3,"r":0},{"t":22.38,"r":300},{"t":22.43,"r":450},{"t":22.5,"r":281},{"t":22.54,"r":300},{"t":22.58,"r":267},{"t":22.62,"r":163},{"t":22.7,"r":0},
{"t":23.28,"r":0},{"t":23.35,"r":207},{"t":23.4,"r":240},{"t":23.48,"r":548},{"t":23.52,"r":480},{"t":23.56,"r":518},{"t":23.61,"r":444},{"t":23.7,"r":50},{"t":23.74,"r":0},
{"t":24.28,"r":0},{"t":24.38,"r":335},{"t":24.44,"r":564},{"t":24.47,"r":587},{"t":24.53,"r":450},{"t":24.6,"r":385},{"t":24.68,"r":88},{"t":24.73,"r":0},
{"t":25.3,"r":0},{"t":25.4,"r":250},{"t":25.46,"r":400},{"t":25.52,"r":356},{"t":25.58,"r":380},{"t":25.65,"r":356},{"t":25.71,"r":148},{"t":25.76,"r":0},
{"t":26.28,"r":0},{"t":26.38,"r":330},{"t":26.46,"r":569},{"t":26.52,"r":450},{"t":26.6,"r":252},{"t":26.7,"r":40},{"t":26.74,"r":0},
{"t":27.28,"r":0},{"t":27.37,"r":400},{"t":27.41,"r":518},{"t":27.52,"r":622},{"t":27.6,"r":450},{"t":27.7,"r":50},{"t":27.74,"r":0},
{"t":28.3,"r":0},{"t":28.38,"r":300},{"t":28.41,"r":504},{"t":28.46,"r":148},{"t":28.5,"r":300},{"t":28.57,"r":415},{"t":28.67,"r":148},{"t":28.74,"r":0},
{"t":29.28,"r":0},{"t":29.38,"r":370},{"t":29.47,"r":620},{"t":29.49,"r":637},{"t":29.58,"r":400},{"t":29.66,"r":70},{"t":29.7,"r":59},{"t":29.74,"r":0},
{"t":30.28,"r":0},{"t":30.38,"r":300},{"t":30.46,"r":500},{"t":30.51,"r":518},{"t":30.56,"r":400},{"t":30.6,"r":326},{"t":30.7,"r":40},{"t":30.74,"r":0},
{"t":31.28,"r":0},{"t":31.38,"r":330},{"t":31.46,"r":560},{"t":31.51,"r":578},{"t":31.59,"r":489},{"t":31.67,"r":200},{"t":31.73,"r":0},
{"t":32.02,"r":0}
]
},
"vconcat":[
{"width":1756,"height":208,"data":{"name":"tmp"},
 "layer":[
  {"mark":{"type":"line","color":"#0000ff"},"encoding":{
   "x":{"field":"t","type":"quantitative","scale":{"domain":[-0.25,33.21],"nice":false,"zero":false},"axis":{"orient":"top","values":[0,1,2,3,4,5,6,7,8,9,10,11,12,13,14,15,16,17,18,19,20,21,22,23,24,25,26,27,28,29,30,31,32],"labels":false,"tickSize":-13,"title":null}},
   "y":{"field":"a","type":"quantitative","scale":{"domain":[-1.8,47.1],"nice":false,"zero":false},"axis":{"orient":"left","values":[0,10,20,30,40],"labelExpr":"''+datum.value","labelAngle":-90,"labelAlign":"center","labelBaseline":"bottom","labelPadding":12,"title":"Temperatura (C)","titleAngle":-90,"titleAlign":"center","titleBaseline":"bottom","titleX":-50}}}},
  {"mark":{"type":"line","color":"#00cd00"},"encoding":{
   "x":{"field":"t","type":"quantitative","scale":{"domain":[-0.25,33.21],"nice":false,"zero":false},"axis":{"orient":"bottom","values":[0,1,2,3,4,5,6,7,8,9,10,11,12,13,14,15,16,17,18,19,20,21,22,23,24,25,26,27,28,29,30,31,32],"labelExpr":"datum.value == 0 ? '30' : (datum.value == 32 ? '1' : ''+datum.value)","title":null}},
   "y":{"field":"b","type":"quantitative","scale":{"domain":[-1.8,47.1],"nice":false,"zero":false},"axis":{"orient":"right","values":[0,10,20,30,40],"title":null}}}},
  {"mark":{"type":"line","color":"#ff0000"},"encoding":{
   "x":{"field":"t","type":"quantitative","scale":{"domain":[-0.25,33.21],"nice":false,"zero":false},"axis":null},
   "y":{"field":"c","type":"quantitative","scale":{"domain":[-1.8,47.1],"nice":false,"zero":false},"axis":null}}}
 ],
 "resolve":{"axis":{"x":"independent","y":"independent"}}},
{"width":1756,"height":208,"data":{"name":"hum"},
 "layer":[
  {"mark":{"type":"line","color":"#0000ff"},"encoding":{
   "x":{"field":"t","type":"quantitative","scale":{"domain":[-0.25,33.21],"nice":false,"zero":false},"axis":{"orient":"top","values":[0,1,2,3,4,5,6,7,8,9,10,11,12,13,14,15,16,17,18,19,20,21,22,23,24,25,26,27,28,29,30,31,32],"labels":false,"title":null}},
   "y":{"field":"a","type":"quantitative","scale":{"domain":[-4.2,104.4],"nice":false,"zero":false},"axis":{"orient":"left","values":[0,20,40,60,80,100],"labelExpr":"indexof([0,20,60,100], datum.value) >= 0 ? ''+datum.value : ''","labelAngle":-90,"labelAlign":"center","labelBaseline":"bottom","labelPadding":12,"title":"Umidita' (%)","titleAngle":-90,"titleAlign":"center","titleBaseline":"bottom","titleX":-50}}}},
  {"mark":{"type":"line","color":"#00cd00"},"encoding":{
   "x":{"field":"t","type":"quantitative","scale":{"domain":[-0.25,33.21],"nice":false,"zero":false},"axis":{"orient":"bottom","values":[0,1,2,3,4,5,6,7,8,9,10,11,12,13,14,15,16,17,18,19,20,21,22,23,24,25,26,27,28,29,30,31,32],"labelExpr":"datum.value == 0 ? '30' : (datum.value == 32 ? '1' : ''+datum.value)","title":null}},
   "y":{"field":"b","type":"quantitative","scale":{"domain":[-4.2,104.4],"nice":false,"zero":false},"axis":{"orient":"right","values":[0,20,40,60,80,100],"title":null}}}},
  {"mark":{"type":"line","color":"#ff0000"},"encoding":{
   "x":{"field":"t","type":"quantitative","scale":{"domain":[-0.25,33.21],"nice":false,"zero":false},"axis":null},
   "y":{"field":"c","type":"quantitative","scale":{"domain":[-4.2,104.4],"nice":false,"zero":false},"axis":null}}}
 ],
 "resolve":{"axis":{"x":"independent","y":"independent"}}},
{"width":1756,"height":208,"data":{"name":"prs"},
 "layer":[
  {"mark":{"type":"line","color":"#0000ff"},"encoding":{
   "x":{"field":"t","type":"quantitative","scale":{"domain":[-0.25,33.21],"nice":false,"zero":false},"axis":{"orient":"top","values":[0,1,2,3,4,5,6,7,8,9,10,11,12,13,14,15,16,17,18,19,20,21,22,23,24,25,26,27,28,29,30,31,32],"labels":false,"title":null}},
   "y":{"field":"a","type":"quantitative","scale":{"domain":[978.3,1021.5],"nice":false,"zero":false},"axis":{"orient":"left","values":[980,990,1000,1010,1020],"labelExpr":"datum.value % 20 == 0 ? ''+datum.value : ''","labelAngle":-90,"labelAlign":"center","labelBaseline":"bottom","labelPadding":12,"title":"Pressione (hPa)","titleAngle":-90,"titleAlign":"center","titleBaseline":"bottom","titleX":-50}}}},
  {"mark":{"type":"line","color":"#00cd00"},"encoding":{
   "x":{"field":"t","type":"quantitative","scale":{"domain":[-0.25,33.21],"nice":false,"zero":false},"axis":{"orient":"bottom","values":[0,1,2,3,4,5,6,7,8,9,10,11,12,13,14,15,16,17,18,19,20,21,22,23,24,25,26,27,28,29,30,31,32],"labelExpr":"datum.value == 0 ? '30' : (datum.value == 32 ? '1' : ''+datum.value)","title":null}},
   "y":{"field":"b","type":"quantitative","scale":{"domain":[978.3,1021.5],"nice":false,"zero":false},"axis":{"orient":"right","values":[980,990,1000,1010,1020],"title":null}}}},
  {"mark":{"type":"line","color":"#ff0000"},"encoding":{
   "x":{"field":"t","type":"quantitative","scale":{"domain":[-0.25,33.21],"nice":false,"zero":false},"axis":null},
   "y":{"field":"c","type":"quantitative","scale":{"domain":[978.3,1021.5],"nice":false,"zero":false},"axis":null}}}
 ],
 "resolve":{"axis":{"x":"independent","y":"independent"}}},
{"width":1756,"height":208,"data":{"name":"wnd"},
 "layer":[
  {"mark":{"type":"line","color":"#00cd00"},"encoding":{
   "x":{"field":"t","type":"quantitative","scale":{"domain":[-0.25,33.21],"nice":false,"zero":false},"axis":{"orient":"top","values":[0,1,2,3,4,5,6,7,8,9,10,11,12,13,14,15,16,17,18,19,20,21,22,23,24,25,26,27,28,29,30,31,32],"labels":false,"title":null}},
   "y":{"field":"a","type":"quantitative","scale":{"domain":[-1.3,31.2],"nice":false,"zero":false},"axis":{"orient":"left","values":[0,5,10,15,20,25,30],"labelExpr":"indexof([0,5,15,25], datum.value) >= 0 ? ''+datum.value : ''","labelAngle":-90,"labelAlign":"center","labelBaseline":"bottom","labelPadding":12,"title":"Vento (m/s)","titleAngle":-90,"titleAlign":"center","titleBaseline":"bottom","titleX":-50}}}},
  {"mark":{"type":"line","color":"#ff0000"},"encoding":{
   "x":{"field":"t","type":"quantitative","scale":{"domain":[-0.25,33.21],"nice":false,"zero":false},"axis":{"orient":"bottom","values":[0,1,2,3,4,5,6,7,8,9,10,11,12,13,14,15,16,17,18,19,20,21,22,23,24,25,26,27,28,29,30,31,32],"labelExpr":"datum.value == 0 ? '30' : (datum.value == 32 ? '1' : ''+datum.value)","title":null}},
   "y":{"field":"b","type":"quantitative","scale":{"domain":[-1.3,31.2],"nice":false,"zero":false},"axis":{"orient":"right","values":[0,5,10,15,20,25,30],"title":null}}}}
 ],
 "resolve":{"axis":{"x":"independent","y":"independent"}}},
{"width":1756,"height":208,"data":{"name":"dir"},
 "layer":[
  {"mark":{"type":"line","color":"#00cd00"},"encoding":{
   "x":{"field":"t","type":"quantitative","scale":{"domain":[-0.25,33.21],"nice":false,"zero":false},"axis":{"orient":"top","values":[0,1,2,3,4,5,6,7,8,9,10,11,12,13,14,15,16,17,18,19,20,21,22,23,24,25,26,27,28,29,30,31,32],"labels":false,"title":null}},
   "y":{"field":"d","type":"quantitative","scale":{"domain":[0,355],"nice":false,"zero":false},"axis":{"orient":"left","values":[50,100,150,200,250,300,350],"labelExpr":"datum.value % 100 == 50 ? ''+datum.value : ''","labelAngle":-90,"labelAlign":"center","labelBaseline":"bottom","labelPadding":12,"title":["Direzione Vento","(gradi)"],"titleLineHeight":23,"titleAngle":-90,"titleAlign":"center","titleBaseline":"bottom","titleX":-73}}}},
  {"mark":{"type":"line","color":"#00cd00","opacity":0},"encoding":{
   "x":{"field":"t","type":"quantitative","scale":{"domain":[-0.25,33.21],"nice":false,"zero":false},"axis":{"orient":"bottom","values":[0,1,2,3,4,5,6,7,8,9,10,11,12,13,14,15,16,17,18,19,20,21,22,23,24,25,26,27,28,29,30,31,32],"labelExpr":"datum.value == 0 ? '30' : (datum.value == 32 ? '1' : ''+datum.value)","title":null}},
   "y":{"field":"d","type":"quantitative","scale":{"domain":[0,355],"nice":false,"zero":false},"axis":{"orient":"right","values":[50,100,150,200,250,300,350],"title":null}}}}
 ],
 "resolve":{"axis":{"x":"independent","y":"independent"}}},
{"width":1756,"height":208,"data":{"name":"rain"},
 "layer":[
  {"mark":{"type":"line","color":"#00cd00"},"encoding":{
   "x":{"field":"t","type":"quantitative","scale":{"domain":[-0.25,33.21],"nice":false,"zero":false},"axis":{"orient":"top","values":[0,1,2,3,4,5,6,7,8,9,10,11,12,13,14,15,16,17,18,19,20,21,22,23,24,25,26,27,28,29,30,31,32],"labels":false,"title":null}},
   "y":{"field":"p","type":"quantitative","scale":{"domain":[-1.1,34.1],"nice":false,"zero":false},"axis":{"orient":"left","values":[0,5,10,15,20,25,30],"labelExpr":"datum.value % 10 == 0 ? ''+datum.value : ''","labelAngle":-90,"labelAlign":"center","labelBaseline":"bottom","labelPadding":12,"title":"Precipitazioni (mm)","titleAngle":-90,"titleAlign":"center","titleBaseline":"bottom","titleX":-50}}}},
  {"mark":{"type":"line","color":"#00cd00","opacity":0},"encoding":{
   "x":{"field":"t","type":"quantitative","scale":{"domain":[-0.25,33.21],"nice":false,"zero":false},"axis":{"orient":"bottom","values":[0,1,2,3,4,5,6,7,8,9,10,11,12,13,14,15,16,17,18,19,20,21,22,23,24,25,26,27,28,29,30,31,32],"labelExpr":"datum.value == 0 ? '30' : (datum.value == 32 ? '1' : ''+datum.value)","title":null}},
   "y":{"field":"p","type":"quantitative","scale":{"domain":[-1.1,34.1],"nice":false,"zero":false},"axis":{"orient":"right","values":[0,5,10,15,20,25,30],"title":null}}}}
 ],
 "resolve":{"axis":{"x":"independent","y":"independent"}}},
{"width":1756,"height":208,"data":{"name":"rad"},
 "layer":[
  {"mark":{"type":"line","color":"#00cd00"},"encoding":{
   "x":{"field":"t","type":"quantitative","scale":{"domain":[-0.25,33.21],"nice":false,"zero":false},"axis":{"orient":"top","values":[0,1,2,3,4,5,6,7,8,9,10,11,12,13,14,15,16,17,18,19,20,21,22,23,24,25,26,27,28,29,30,31,32],"labels":false,"title":null}},
   "y":{"field":"r","type":"quantitative","scale":{"domain":[-44,1038],"nice":false,"zero":false},"axis":{"orient":"left","values":[0,200,400,600,800,1000],"labelExpr":"indexof([0,400,800], datum.value) >= 0 ? ''+datum.value : ''","labelAngle":-90,"labelAlign":"center","labelBaseline":"bottom","labelPadding":12,"title":["Irraggiamento","medio (W/m^2)"],"titleLineHeight":23,"titleAngle":-90,"titleAlign":"center","titleBaseline":"bottom","titleX":-73}}}},
  {"mark":{"type":"line","color":"#00cd00","opacity":0},"encoding":{
   "x":{"field":"t","type":"quantitative","scale":{"domain":[-0.25,33.21],"nice":false,"zero":false},"axis":{"orient":"bottom","values":[0,1,2,3,4,5,6,7,8,9,10,11,12,13,14,15,16,17,18,19,20,21,22,23,24,25,26,27,28,29,30,31,32],"labelExpr":"datum.value == 0 ? '30' : (datum.value == 32 ? '1' : ''+datum.value)","title":"Data","titleFontWeight":"normal","titleFontSize":31,"titleX":845,"titleY":94,"titleBaseline":"alphabetic","titleAlign":"center"}},
   "y":{"field":"r","type":"quantitative","scale":{"domain":[-44,1038],"nice":false,"zero":false},"axis":{"orient":"right","values":[0,200,400,600,800,1000],"title":null}}}}
 ],
 "resolve":{"axis":{"x":"independent","y":"independent"}}}
],
"config":{
 "font":"Liberation Sans",
 "view":{"stroke":"black","strokeWidth":2},
 "line":{"strokeWidth":2.5},
 "axis":{"domain":false,"grid":false,"tickColor":"#111111","tickWidth":2,"labelFont":"Liberation Sans","labelFontSize":20,"labelFontWeight":"bold","labelColor":"black","titleFont":"Liberation Sans","titleFontSize":21,"titleFontWeight":"bold","titleColor":"black","labelOverlap":false,"labelFlush":false,"labelBound":false},
 "axisLeft":{"tickSize":11},
 "axisRight":{"tickSize":12,"labels":false},
 "axisTop":{"tickSize":13,"labels":false},
 "axisBottom":{"tickSize":13,"labelPadding":26,"labelBaseline":"middle"}
}
}
